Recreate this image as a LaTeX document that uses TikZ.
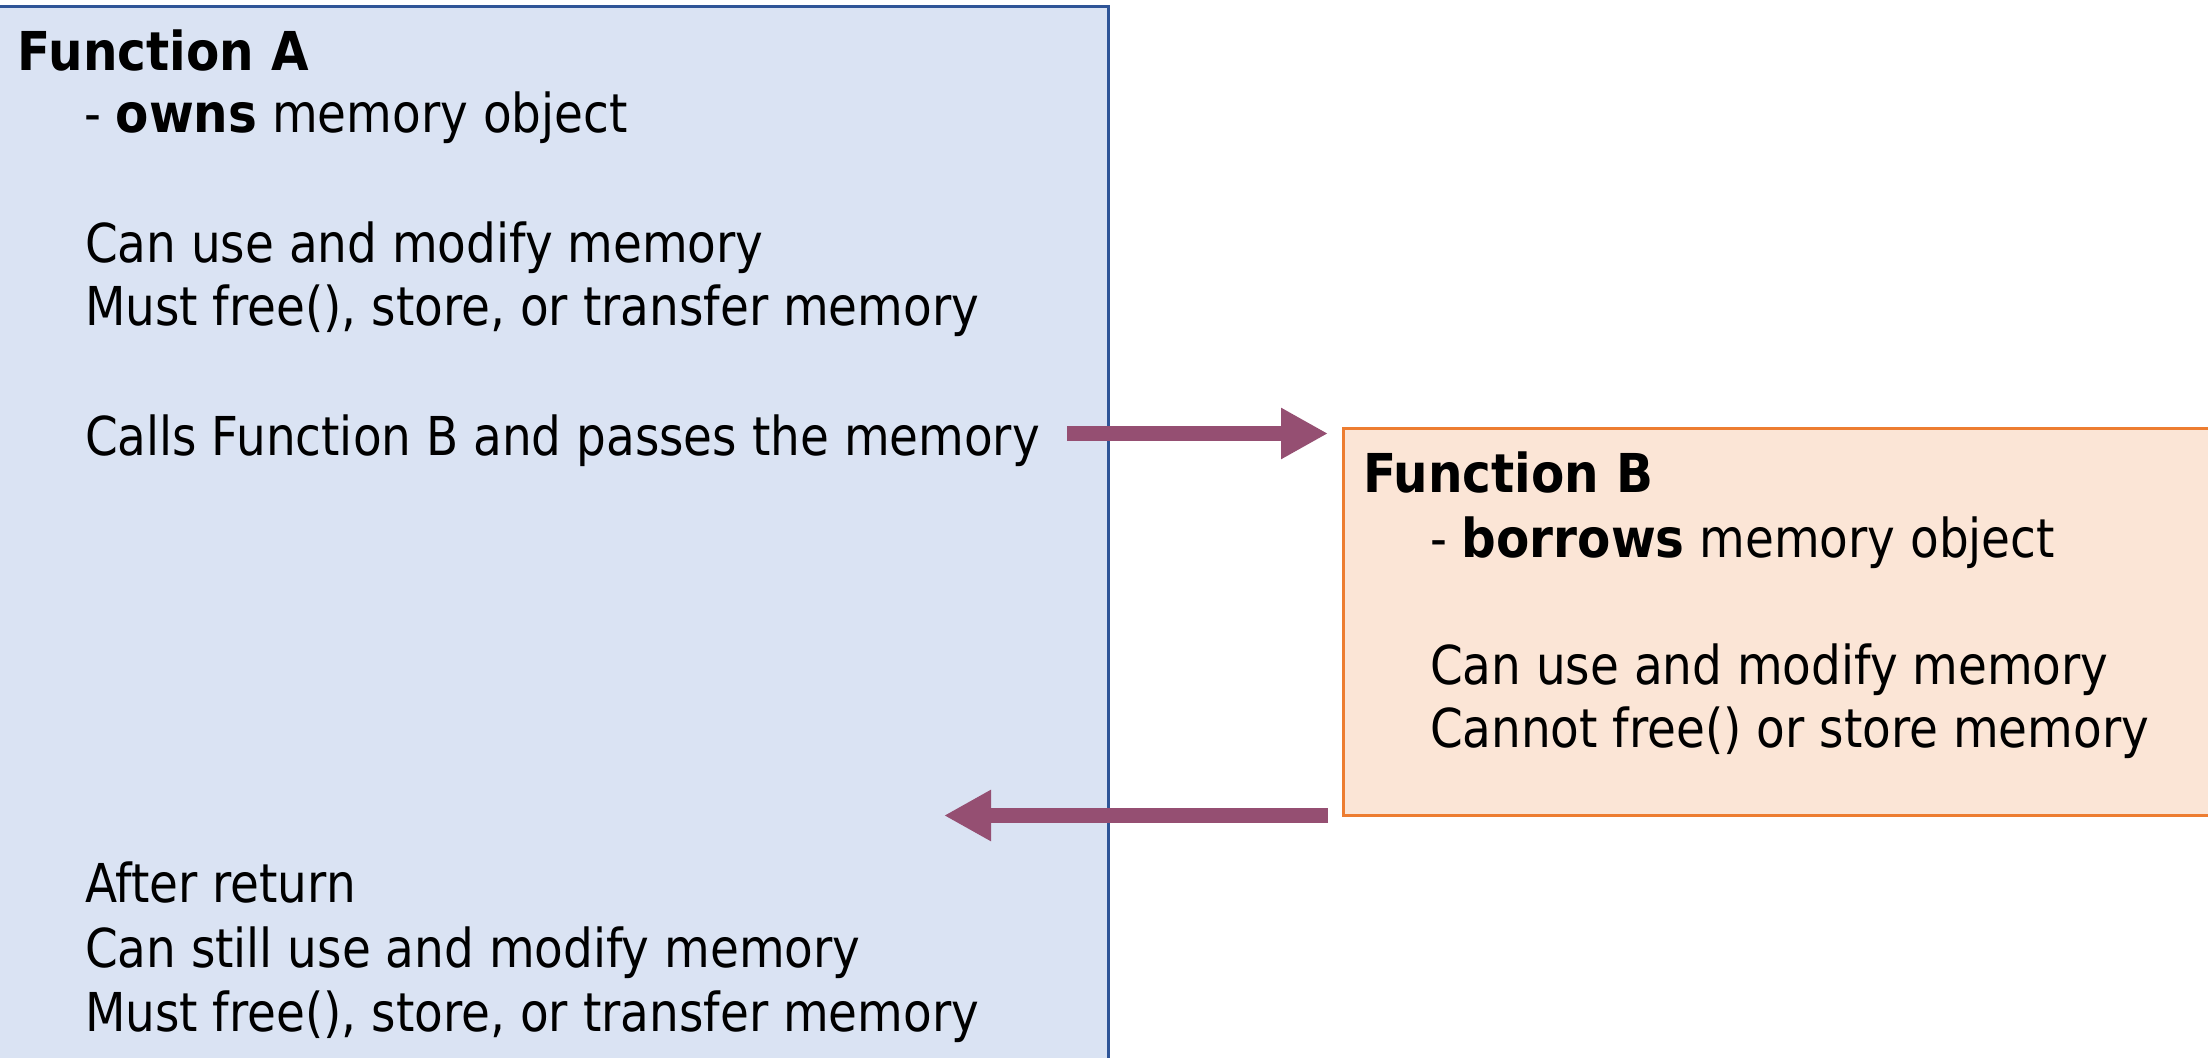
\documentclass[tikz,border=0pt]{standalone}
\usepackage{fontspec}
\setmainfont{DejaVu Sans}[FakeStretch=0.875, BoldFeatures={FakeStretch=0.905}]
\usetikzlibrary{arrows.meta}
\definecolor{ownfill}{HTML}{DAE3F3}
\definecolor{owndraw}{HTML}{2F5597}
\definecolor{borfill}{HTML}{FBE5D6}
\definecolor{bordraw}{HTML}{ED7D31}
\definecolor{flow}{HTML}{954F72}
\tikzset{
  txt/.style={anchor=base west, inner sep=0pt, outer sep=0pt,
    font=\fontsize{26.8pt}{32pt}\selectfont},
  head/.style={txt, font=\fontsize{26.8pt}{32pt}\selectfont\bfseries},
  panelA/.style={fill=ownfill, draw=owndraw, line width=1.5pt},
  panelB/.style={fill=borfill, draw=bordraw, line width=1.5pt},
  pass/.style={draw=flow, line width=7.5pt,
    -{Triangle[length=23.5pt, width=24pt]}, line cap=butt}
}
\begin{document}
\begin{tikzpicture}[x=0.5pt, y=-0.5pt]
  \useasboundingbox (0,0) rectangle (2208,1058);
  \clip (0,0) rectangle (2208,1058);
  % panels
  \draw[panelA] (-20,7) rectangle (1108,1080);
  \draw[panelB] (1343,429) rectangle (2230,816);
  % Function A text
  \node[head] (fa) at (18,71) {Function A};
  \node[txt] (fa1) at (84,133) {- \textbf{owns} memory object};
  \node[txt] (fa2) at (85,263) {Can use and modify memory};
  \node[txt] (fa3) at (85,326) {Must free(), store, or transfer memory};
  \node[txt] (fa4) at (85,456) {Calls Function B and passes the memory};
  \node[txt] (fa5) at (85,903) {After return};
  \node[txt] (fa6) at (85,967) {Can still use and modify memory};
  \node[txt] (fa7) at (85,1031) {Must free(), store, or transfer memory};
  % Function B text
  \node[head] (fb) at (1363,493) {Function B};
  \node[txt] (fb1) at (1430,558) {- \textbf{borrows} memory object};
  \node[txt] (fb2) at (1430,685) {Can use and modify memory};
  \node[txt] (fb3) at (1430,748) {Cannot free() or store memory};
  % call and return arrows
  \coordinate (callfrom) at (1067,433.5);
  \coordinate (callto) at (1328,433.5);
  \coordinate (retfrom) at (1328,815.5);
  \coordinate (retto) at (944,815.5);
  \draw[pass] (callfrom) -- (callto);
  \draw[pass] (retfrom) -- (retto);
\end{tikzpicture}
\end{document}
